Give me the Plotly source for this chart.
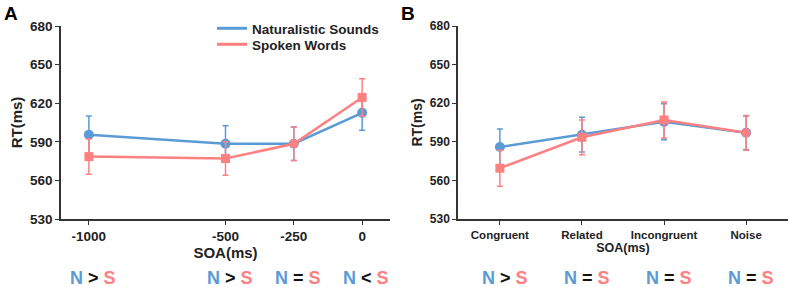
import plotly.graph_objects as go

# ---- data ----
soa_a = [-1000, -500, -250, 0]
soa_a_labels = ["-1000", "-500", "-250", "0"]
nat_a = [595.5, 588.5, 588.5, 612.5]
nat_a_err = [14.5, 14, 13, 13.5]
spk_a = [578.5, 577, 588.5, 624.5]
spk_a_err = [13.7, 13, 13, 14.5]

cats_b = ["Congruent", "Related", "Incongruent", "Noise"]
nat_b = [586, 595.5, 605.5, 597]
nat_b_err = [14, 13.5, 14, 13]
spk_b = [569.5, 593.5, 607, 597]
spk_b_err = [14, 13.5, 14, 13.5]

y_ticks = [530, 560, 590, 620, 650, 680]

comp_a = [">", ">", "=", "<"]
comp_b = [">", "=", "=", "="]

series_names = ["Naturalistic Sounds", "Spoken Words"]

# ---- style ----
BLUE = "#5B9BD5"
PINK = "#FF8080"
INK = "#222222"
FONT = "Arial"
spk_a_symbols = ["square", "square", "circle", "square"]
spk_b_symbols = ["square", "square", "square", "circle"]

fig = go.Figure()

def add_pair(xs, nat, nat_err, spk, spk_err, spk_sym, xa, ya):
    fig.add_trace(go.Scatter(
        x=xs, y=nat, mode="lines+markers", xaxis=xa, yaxis=ya,
        line=dict(color=BLUE, width=2.5),
        marker=dict(color=BLUE, size=10, symbol="circle"),
        error_y=dict(type="data", array=nat_err, color=BLUE, thickness=1.5, width=3),
        showlegend=False))
    fig.add_trace(go.Scatter(
        x=xs, y=spk, mode="lines+markers", xaxis=xa, yaxis=ya,
        line=dict(color=PINK, width=2.5),
        marker=dict(color=PINK, size=9, symbol=spk_sym),
        error_y=dict(type="data", array=spk_err, color=PINK, thickness=1.5, width=3),
        showlegend=False))

add_pair(soa_a, nat_a, nat_a_err, spk_a, spk_a_err, spk_a_symbols, "x", "y")
add_pair(cats_b, nat_b, nat_b_err, spk_b, spk_b_err, spk_b_symbols, "x2", "y2")

# legend-only line traces (one legend per row to control spacing)
for name, col, lg in zip(series_names, [BLUE, PINK], ["legend", "legend2"]):
    fig.add_trace(go.Scatter(x=[None], y=[None], mode="lines", name=name, legend=lg,
                             line=dict(color=col, width=3), xaxis="x", yaxis="y"))

ydom = [1 - 219 / 287, 1 - 26 / 287]

def f(size):
    return dict(family=FONT, size=size, color=INK, weight="bold")

common_axis = dict(showline=True, linecolor="#333333", linewidth=1.5,
                   ticks="outside", ticklen=4, tickwidth=1.2, tickcolor="#333333",
                   showgrid=False, zeroline=False, automargin=False)

legend_common = dict(xanchor="left", yanchor="top", bgcolor="rgba(0,0,0,0)",
                     font=f(13.5), itemwidth=30)

fig.update_layout(
    width=790, height=287,
    margin=dict(l=0, r=0, t=0, b=0),
    paper_bgcolor="white", plot_bgcolor="white",
    font=dict(family=FONT, color=INK),
    xaxis=dict(domain=[61 / 790, 390 / 790], range=[-1102, 102],
               tickvals=soa_a, ticktext=soa_a_labels, tickfont=f(13.5),
               title=dict(text="SOA(ms)", font=f(15), standoff=2),
               anchor="y", **common_axis),
    yaxis=dict(domain=ydom, range=[530, 680], tickvals=y_ticks, tickfont=f(13.5),
               title=dict(text="RT(ms)", font=f(15), standoff=4),
               anchor="x", **common_axis),
    xaxis2=dict(domain=[458 / 790, 788 / 790], range=[-0.51, 3.51],
                type="category", tickfont=f(11.5),
                title=dict(text="SOA(ms)", font=f(12.5), standoff=0),
                anchor="y2", **common_axis),
    yaxis2=dict(domain=ydom, range=[530, 680], tickvals=y_ticks, tickfont=f(12),
                title=dict(text="RT(ms)", font=f(14), standoff=4),
                anchor="x2", **common_axis),
    legend=dict(x=212 / 790, y=1 - 13 / 287, **legend_common),
    legend2=dict(x=212 / 790, y=1 - 29 / 287, **legend_common),
)

ann = []
ann.append(dict(text="<b>A</b>", x=2 / 790, y=1 - 1 / 287, xref="paper", yref="paper",
                xanchor="left", yanchor="top", showarrow=False,
                font=dict(family=FONT, size=19, color="black")))
ann.append(dict(text="<b>B</b>", x=399 / 790, y=1 - 1 / 287, xref="paper", yref="paper",
                xanchor="left", yanchor="top", showarrow=False,
                font=dict(family=FONT, size=19, color="black")))

def comp_text(c):
    return (f"<span style='color:{BLUE}'>N</span> "
            f"<span style='color:#111111'>{c}</span> "
            f"<span style='color:{PINK}'>S</span>")

for xv, c in zip(soa_a, comp_a):
    ann.append(dict(text=f"<b>{comp_text(c)}</b>", x=xv, xref="x", y=1 - 278 / 287,
                    yref="paper", xanchor="center", yanchor="middle", xshift=4,
                    showarrow=False, font=dict(family=FONT, size=18)))
for xv, c in zip(cats_b, comp_b):
    ann.append(dict(text=f"<b>{comp_text(c)}</b>", x=xv, xref="x2", y=1 - 278 / 287,
                    yref="paper", xanchor="center", yanchor="middle", xshift=5,
                    showarrow=False, font=dict(family=FONT, size=18)))

fig.update_layout(annotations=ann)

fig.write_html("out.html", config={"displayModeBar": False},
               post_script="document.body.style.margin='0';")
